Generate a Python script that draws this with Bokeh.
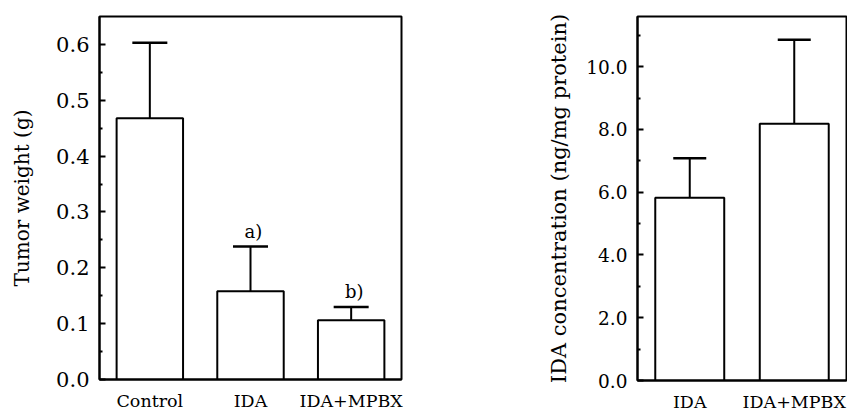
from bokeh.plotting import figure
from bokeh.models import (FactorRange, Range1d, FixedTicker, PrintfTickFormatter,
                          Whisker, TeeHead, ColumnDataSource)
from bokeh.layouts import row
from bokeh.core.properties import value
from bokeh.embed import file_html
from bokeh.resources import INLINE

# ---- data: left panel (tumor weight) ----
tumor_groups = ["Control", "IDA", "IDA+MPBX"]
tumor_mean = [0.468, 0.158, 0.106]
tumor_err = [0.135, 0.080, 0.024]
tumor_marks = ["", "a)", "b)"]
tumor_ticks = [0.0, 0.1, 0.2, 0.3, 0.4, 0.5, 0.6]
tumor_minor = [0.05, 0.15, 0.25, 0.35, 0.45, 0.55]

# ---- data: right panel (IDA concentration) ----
conc_groups = ["IDA", "IDA+MPBX"]
conc_mean = [5.82, 8.18]
conc_err = [1.26, 2.68]
conc_ticks = [0.0, 2.0, 4.0, 6.0, 8.0, 10.0]
conc_minor = [1.0, 3.0, 5.0, 7.0, 9.0, 11.0]

FONT = "DejaVu Serif"


def make_panel(groups, mean, err, ticks, minor, ymax, frame_w, frame_h,
               border_left, border_right, border_top, tick_size, cap_px,
               title, title_size, title_standoff):
    p = figure(x_range=FactorRange(*groups, range_padding=0),
               y_range=Range1d(0, ymax),
               frame_width=frame_w, frame_height=frame_h,
               min_border_left=border_left, min_border_right=border_right,
               min_border_top=border_top, min_border_bottom=28,
               output_backend="svg", toolbar_location=None,
               background_fill_color="white", border_fill_color="white")
    p.xgrid.visible = False
    p.ygrid.visible = False
    p.outline_line_color = "black"
    p.outline_line_width = 2
    p.outline_line_alpha = 1

    src = ColumnDataSource(dict(g=groups, m=mean,
                                u=[a + b for a, b in zip(mean, err)]))
    p.vbar(x="g", top="m", bottom=0, width=0.66, source=src,
           fill_color="white", line_color="black", line_width=2)
    wh = Whisker(base="g", lower="m", upper="u", source=src,
                 dimension="height", line_color="black", line_width=2,
                 upper_head=TeeHead(size=cap_px, line_color="black", line_width=2.5),
                 lower_head=None)
    p.add_layout(wh)

    ya = p.yaxis[0]
    ya.ticker = FixedTicker(ticks=ticks, minor_ticks=minor)
    ya.formatter = PrintfTickFormatter(format="%.1f")
    ya.major_tick_in = 6
    ya.major_tick_out = 0
    ya.minor_tick_in = 3
    ya.minor_tick_out = 0
    ya.major_tick_line_width = 2
    ya.minor_tick_line_width = 2
    ya.axis_line_width = 2
    ya.major_label_text_font = FONT
    ya.major_label_text_font_size = tick_size
    ya.major_label_text_color = "black"
    ya.major_label_standoff = 10
    ya.axis_label = title
    ya.axis_label_text_font = FONT
    ya.axis_label_text_font_style = "normal"
    ya.axis_label_text_font_size = title_size
    ya.axis_label_text_color = "black"
    ya.axis_label_standoff = title_standoff

    xa = p.xaxis[0]
    xa.major_tick_in = 0
    xa.major_tick_out = 0
    xa.minor_tick_line_color = None
    xa.axis_line_width = 2
    xa.major_label_text_font = FONT
    xa.major_label_text_font_size = "17.5px"
    xa.major_label_text_color = "black"
    xa.major_label_standoff = 11
    return p, src


p1, s1 = make_panel(tumor_groups, tumor_mean, tumor_err, tumor_ticks, tumor_minor,
                    0.65, 302, 363, 99, 107, 15, "21px", 35,
                    "Tumor weight (g)", "20px", 19)
s1.data["t"] = tumor_marks
p1.text(x="g", y="u", text="t", source=s1, text_align="center",
        text_baseline="bottom", y_offset=-5, x_offset=3,
        text_font=value(FONT), text_font_size="18px", text_color="black")

p2, s2 = make_panel(conc_groups, conc_mean, conc_err, conc_ticks, conc_minor,
                    11.6, 209, 364, 129, 1, 16, "18.5px", 33,
                    "IDA concentration (ng/mg protein)", "21px", 12)

layout = row(p1, p2)
open("out.html", "w").write(file_html(layout, INLINE))
